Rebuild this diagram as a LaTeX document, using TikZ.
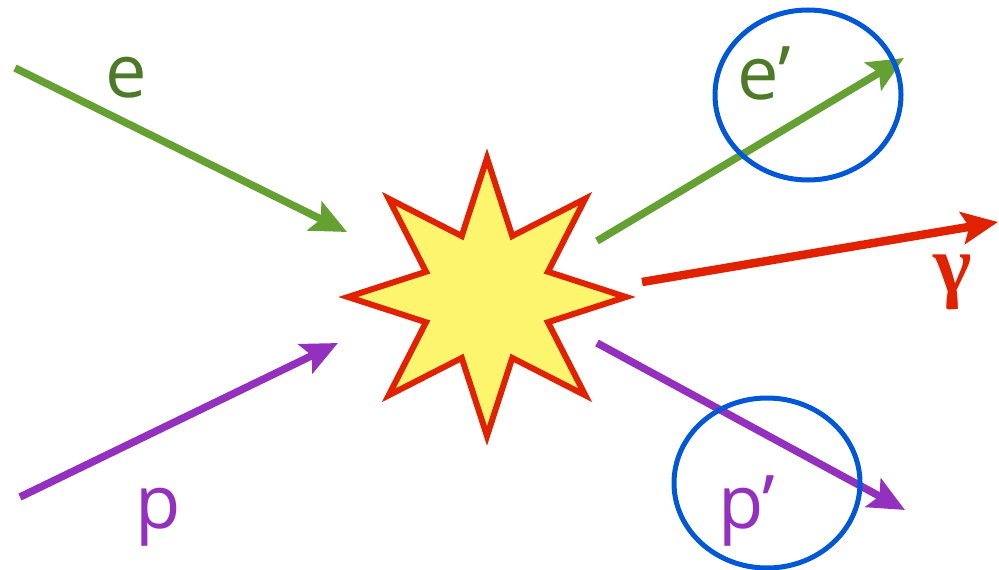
\documentclass[tikz,border=0pt]{standalone}
\usepackage{fontspec}
\setmainfont{Open Sans}
\newfontfamily\gfont{Liberation Serif}
\usetikzlibrary{arrows.meta,shapes.geometric}
\definecolor{egreen}{HTML}{64A032}
\definecolor{lgreen}{HTML}{4C7A26}
\definecolor{ppurple}{HTML}{9430BE}
\definecolor{gred}{HTML}{E02200}
\definecolor{cblue}{HTML}{0058D6}
\definecolor{syellow}{HTML}{FEF56E}
\begin{document}
\begin{tikzpicture}[x=1pt,y=-1pt,
  arr/.style={line width=7.5pt,-{Stealth[length=36pt,width=32pt,inset=7pt]}},
  lbl/.style={font=\fontsize{74}{80}\selectfont,inner sep=0pt,anchor=base west},
  ring/.style={draw=cblue,line width=5pt,ellipse,inner sep=0pt,minimum width=186pt,minimum height=170pt},
  starsty/.style={draw=gred,fill=syellow,line width=6pt,line join=miter}
]
\useasboundingbox (0,0) rectangle (999,570);
% star
\begin{scope}[shift={(487,297)}]
\draw[starsty] (0:139) -- (22.5:66) -- (45:139) -- (67.5:66) -- (90:139) -- (112.5:66)
  -- (135:139) -- (157.5:66) -- (180:139) -- (202.5:66) -- (225:139) -- (247.5:66)
  -- (270:139) -- (292.5:66) -- (315:139) -- (337.5:66) -- cycle;
\end{scope}
\coordinate (star) at (487,297);
% endpoints
\coordinate (eIn) at (15,68);
\coordinate (eTip) at (347,232);
\coordinate (pIn) at (20,497);
\coordinate (pTip) at (338,343);
\coordinate (eOut) at (597,241);
\coordinate (eOutTip) at (904,58);
\coordinate (gOut) at (642,282);
\coordinate (gTip) at (998,222);
\coordinate (pOut) at (597,343);
\coordinate (pOutTip) at (905,510);
% arrows
\draw[arr,egreen] (eIn) -- (eTip);
\draw[arr,ppurple] (pIn) -- (pTip);
\draw[arr,egreen] (eOut) -- (eOutTip);
\draw[arr,gred,line width=8.5pt] (gOut) -- (gTip);
\draw[arr,ppurple] (pOut) -- (pOutTip);
% rings
\node[ring] (ring1) at (808,95) {};
\node[ring] (ring2) at (767,483) {};
% labels
\node[lbl,text=lgreen] (le) at (105,97) {e};
\node[lbl,text=lgreen] (le2) at (737,99) {e’};
\node[lbl,text=ppurple] (lp) at (135,528) {p};
\node[lbl,text=ppurple] (lp2) at (718,528) {p’};
\node[inner sep=0pt,anchor=base,text=gred,font=\gfont\bfseries\fontsize{82}{90}\selectfont] (lg) at (953,292) {γ};
\end{tikzpicture}
\end{document}
